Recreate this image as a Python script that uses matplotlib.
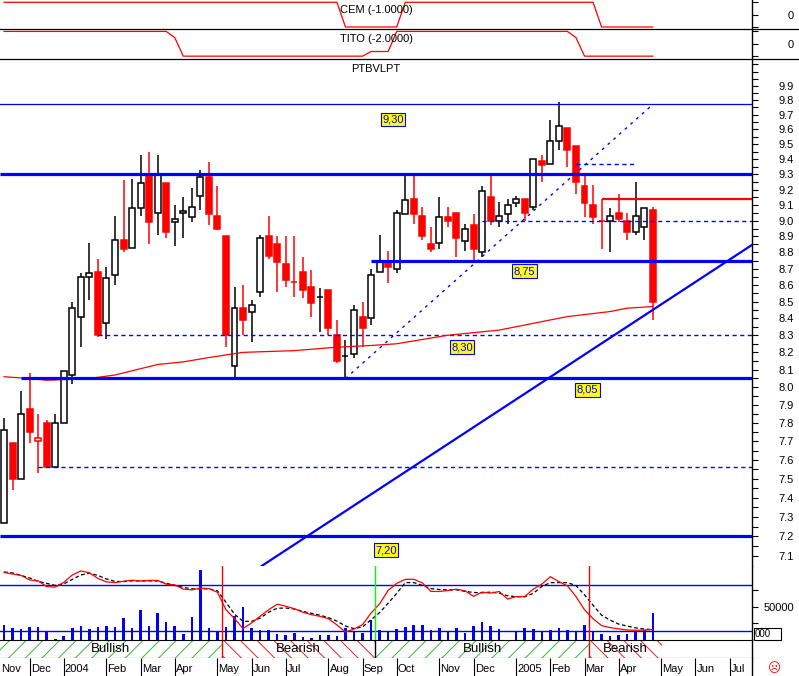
import matplotlib
matplotlib.use('Agg')
import matplotlib.pyplot as plt
from matplotlib.patches import Rectangle
from matplotlib.lines import Line2D
from matplotlib.ticker import FixedLocator, NullFormatter, FuncFormatter
import numpy as np

plt.rcParams['font.family'] = ['Liberation Sans', 'DejaVu Sans']
plt.rcParams['hatch.linewidth'] = 0.7

# weekly bars, week 0 = mid Nov 2003, last = end of Apr 2005
opens = [7.27, 7.69, 7.50, 7.88, 7.70, 7.80, 7.56, 7.80, 8.07, 8.41,
         8.65, 8.68, 8.37, 8.66, 8.88, 8.83, 9.08, 9.30, 9.05, 9.24,
         8.99, 9.05, 9.02, 9.16, 9.28, 9.03, 8.90, 8.12, 8.46, 8.44,
         8.56, 8.90, 8.85, 8.73, 8.62, 8.68, 8.59, 8.53, 8.57, 8.30,
         8.18, 8.19, 8.41, 8.40, 8.68, 8.74, 8.70, 9.04, 9.14, 9.03,
         8.85, 8.86, 9.02, 9.05, 8.87, 8.97, 8.80, 9.15, 9.00, 9.04,
         9.11, 9.14, 9.09, 9.39, 9.37, 9.52, 9.61, 9.49, 9.22, 9.10,
         9.00, 9.00, 9.05, 9.00, 8.93, 8.96, 9.07]
highs = [7.83, 7.69, 7.98, 8.08, 7.85, 7.82, 7.85, 8.09, 8.50, 8.67,
         8.86, 8.76, 8.71, 9.03, 9.26, 9.27, 9.43, 9.45, 9.43, 9.24,
         9.10, 9.15, 9.21, 9.33, 9.38, 9.22, 8.90, 8.59, 8.60, 8.51,
         8.91, 9.03, 8.90, 8.90, 8.90, 8.77, 8.69, 8.58, 8.57, 8.39,
         8.27, 8.48, 8.50, 8.70, 8.91, 8.81, 9.07, 9.29, 9.29, 9.09,
         8.96, 9.15, 9.09, 9.05, 8.98, 9.04, 9.22, 9.29, 9.12, 9.14,
         9.16, 9.14, 9.40, 9.43, 9.66, 9.79, 9.61, 9.49, 9.31, 9.23,
         9.14, 9.08, 9.17, 9.05, 9.25, 9.08, 9.09]
lows = [7.27, 7.44, 7.50, 7.69, 7.53, 7.56, 7.56, 7.80, 8.02, 8.23,
        8.51, 8.29, 8.28, 8.60, 8.80, 8.83, 9.03, 8.85, 8.91, 8.89,
        8.84, 8.89, 8.99, 9.07, 8.97, 8.94, 8.23, 8.05, 8.30, 8.26,
        8.53, 8.76, 8.56, 8.59, 8.53, 8.52, 8.41, 8.32, 8.30, 8.14,
        8.05, 8.17, 8.23, 8.36, 8.68, 8.61, 8.67, 9.04, 8.98, 8.88,
        8.80, 8.82, 8.96, 8.77, 8.81, 8.75, 8.77, 8.97, 8.96, 8.98,
        9.09, 9.00, 9.07, 9.25, 9.37, 9.46, 9.35, 9.17, 9.02, 8.98,
        8.82, 8.80, 8.99, 8.88, 8.91, 8.88, 8.39]
closes = [7.76, 7.50, 7.85, 7.75, 7.72, 7.56, 7.80, 8.09, 8.46, 8.65,
          8.67, 8.30, 8.64, 8.88, 8.82, 9.08, 9.24, 8.99, 9.30, 8.93,
          9.01, 9.06, 9.09, 9.28, 9.04, 8.95, 8.30, 8.46, 8.39, 8.48,
          8.89, 8.78, 8.74, 8.63, 8.62, 8.57, 8.49, 8.53, 8.34, 8.15,
          8.18, 8.45, 8.34, 8.66, 8.74, 8.71, 9.05, 9.13, 9.04, 8.90,
          8.82, 9.02, 9.00, 8.89, 8.95, 8.82, 9.19, 9.00, 9.03, 9.10,
          9.14, 9.05, 9.40, 9.36, 9.52, 9.62, 9.46, 9.25, 9.11, 9.02,
          9.00, 9.03, 9.01, 8.93, 9.03, 9.08, 8.50]
volume = [22000, 17400, 15900, 18900, 18900, 12900, 1000, 5300, 17400, 20500,
          15900, 18900, 20500, 18900, 32600, 17400, 44700, 20500, 40100, 26500,
          20500, 8300, 34100, 105300, 17400, 12900, 18900, 35600, 49200, 17400,
          14400, 14400, 8300, 6800, 9800, 3800, 2300, 6800, 6800, 5300,
          17400, 12900, 9800, 29500, 14400, 12900, 15900, 18500, 21500, 22000,
          14400, 17400, 12900, 17400, 9800, 20000, 26500, 20500, 15900, 0,
          12900, 17400, 15900, 11400, 14400, 17400, 14400, 12900, 22000, 11400,
          8300, 5300, 6800, 8300, 11400, 14400, 40100]
stoch_k = [96.3, 94.3, 92.4, 86.5, 85.2, 77.8, 77.0, 83.3, 93.0, 98.3,
           95.9, 88.5, 83.9, 83.0, 84.8, 86.1, 85.2, 85.9, 85.9, 80.9,
           80.0, 74.4, 73.5, 75.7, 75.2, 70.2, 47.4, 35.7, 22.6, 30.0,
           38.7, 47.4, 54.6, 52.0, 48.7, 44.1, 40.9, 38.7, 35.7, 27.4,
           18.0, 22.0, 27.8, 43.1, 55.2, 72.8, 82.0, 87.2, 87.4, 82.6,
           71.5, 71.3, 72.6, 74.4, 72.2, 65.0, 70.5, 69.2, 71.3, 61.3,
           64.7, 64.7, 74.4, 80.9, 90.8, 84.3, 78.7, 64.7, 47.4, 35.7,
           26.5, 23.9, 22.2, 20.7, 20.4, 20.7, 21.3]
stoch_d = [97.0, 95.7, 92.4, 89.1, 84.6, 82.0, 79.3, 81.3, 87.2, 93.0,
           95.3, 92.4, 87.8, 84.6, 84.3, 85.2, 85.2, 85.2, 85.2, 82.2,
           79.3, 76.7, 74.8, 74.8, 74.8, 72.2, 57.2, 41.5, 32.1, 32.1,
           36.3, 44.1, 49.3, 49.6, 48.3, 45.2, 42.6, 40.2, 37.0, 32.4,
           25.9, 22.6, 24.8, 34.3, 43.5, 55.9, 68.9, 83.0, 83.0, 79.3,
           75.2, 73.9, 73.5, 73.5, 71.5, 70.0, 69.6, 70.5, 69.2, 65.7,
           64.3, 64.3, 68.9, 78.0, 82.9, 83.0, 83.0, 79.1, 67.0, 53.3,
           40.2, 33.7, 28.5, 25.9, 23.5, 22.0, 21.3]

# 40 week average, read at some weeks
ma_weeks = [0, 3, 5, 10, 13, 18, 21, 24, 28, 34, 39, 43, 46, 52, 58, 63, 66, 71, 73, 76]
ma_vals = [8.06, 8.05, 8.04, 8.05, 8.07, 8.13, 8.145, 8.17, 8.20, 8.21,
           8.23, 8.24, 8.25, 8.30, 8.33, 8.38, 8.41, 8.44, 8.46, 8.47]

# system panels
cem_weeks = [0, 39, 40, 46, 47, 69, 70, 76]
cem_vals = [1, 1, -1, -1, 1, 1, -1, -1]
tito_weeks = [0, 19, 20, 21, 42, 43, 45, 46, 66, 67, 68, 76]
tito_vals = [2, 2, 1, -2, -2, -1.25, -1.25, 2, 2, 1, -2, -2]

# drawn levels
top_level = 9.77
thick_levels = [9.30, 8.75, 8.05, 7.20]
thick_from = [None, 43, 2, None]
dash_levels = [9.37, 9.00, 8.30, 7.56]
dash_from = [67, 56, 11, 4]
dash_to = [74, None, None, None]
stop_level = 9.14
stop_week = 70
support_pts = [(40, 7.33), (76, 8.45)]
dotted_pts = [(40, 8.05), (76, 9.77)]

# signals
sig_start = [None, 25.5, 43.5, 68.5]
sig_end = [25.5, 43.5, 68.5, 77.1]
sig_state = ['Bullish', 'Bearish', 'Bullish', 'Bearish']

month_weeks = [-1, 3, 7, 12, 16, 20, 25, 29, 33, 38, 42, 46, 51, 55, 60, 64, 68, 72, 77, 81, 85]
month_names = ['Nov', 'Dec', '2004', 'Feb', 'Mar', 'Apr', 'May', 'Jun', 'Jul', 'Aug', 'Sep',
               'Oct', 'Nov', 'Dec', '2005', 'Feb', 'Mar', 'Apr', 'May', 'Jun', 'Jul']

W, H = 799, 676
XL = (-0.47, 87.62)
fig = plt.figure(figsize=(W / 100, H / 100), dpi=100)


def box(top, bottom):
    return [0, 1 - bottom / H, 752 / W, (bottom - top) / H]


def frame(a):
    a.set_xlim(XL)
    for s in ['left', 'top', 'bottom']:
        a.spines[s].set_visible(False)
    a.spines['right'].set_linewidth(1.0)
    a.tick_params(axis='x', bottom=False, labelbottom=False)


def right_ticks(a):
    a.yaxis.tick_right()
    a.tick_params(axis='y', which='both', direction='out', length=4.3, width=0.8,
                  labelsize=8, pad=26)
    for t in a.yaxis.get_major_ticks():
        t.label2.set_horizontalalignment('right')


ax_cem = fig.add_axes(box(0, 29))
ax_tito = fig.add_axes(box(29, 59))
ax = fig.add_axes(box(59, 566))
ax_vol = fig.add_axes(box(566, 639.5))
ax_band = fig.add_axes(box(639.5, 657.5))
ax_time = fig.add_axes(box(657.5, 676))

# top panels
for a, wk, vals, lim, ticks, name, ty in [
        (ax_cem, cem_weeks, cem_vals, (-1.162, 1.186), [-1, 0, 1], 'CEM (-1.0000)', 1 - 10 / 29),
        (ax_tito, tito_weeks, tito_vals, (-2.46, 2.39), [-2, 0, 2], 'TITO (-2.0000)', 1 - 10 / 30)]:
    frame(a)
    a.plot(wk, vals, color='red', lw=0.9)
    a.set_ylim(lim)
    a.set_yticks(ticks)
    a.set_yticklabels(['', '0', ''])
    right_ticks(a)
    a.text(0.5, ty, name, transform=a.transAxes, ha='center', va='center', fontsize=8)

# price panel
frame(ax)
ax.set_yscale('log')
ax.set_ylim(7.051, 10.089)
ax.yaxis.set_major_locator(FixedLocator(np.round(np.arange(7.1, 9.95, 0.1), 2)))
ax.yaxis.set_minor_locator(FixedLocator(np.round(np.arange(7.15, 10.05, 0.1), 2).tolist() + [10.0]))
ax.yaxis.set_major_formatter(FuncFormatter(lambda v, p: '%.1f' % v))
ax.yaxis.set_minor_formatter(NullFormatter())
right_ticks(ax)

weeks = np.arange(len(closes))
prev = [opens[0]] + closes[:-1]
for i in weeks:
    o, h, l, c = opens[i], highs[i], lows[i], closes[i]
    col = 'red' if c < prev[i] else 'black'
    face = col if c < o else 'white'
    ax.vlines(i, l, h, color=col, lw=1.1, zorder=2)
    ax.bar(i, abs(c - o), bottom=min(o, c), width=0.7, facecolor=face,
           edgecolor=col, lw=1.1, zorder=3)

ax.axhline(top_level, color='blue', lw=0.9, zorder=4)
for lvl, start in zip(thick_levels, thick_from):
    ax.hlines(lvl, XL[0] if start is None else start, XL[1], colors='blue', lw=2.3, zorder=5)
for lvl, start, end in zip(dash_levels, dash_from, dash_to):
    ax.plot([start, XL[1] if end is None else end], [lvl, lvl], color='#0000ff', lw=1.0,
            ls=(0, (3, 2.5)), zorder=4)
ax.hlines(stop_level, stop_week, XL[1], colors='red', lw=1.6, zorder=5)
ax.axline(support_pts[0], support_pts[1], color='blue', lw=1.6, zorder=5)
ax.plot([p[0] for p in dotted_pts], [p[1] for p in dotted_pts], color='#0000ff', lw=1.0,
        ls=(0, (2, 3.5)), zorder=4)
ax.plot(ma_weeks, ma_vals, color='red', lw=0.9, zorder=4)

for s, w, p in [('9,30', 45.57, 9.667), ('8,75', 60.97, 8.685), ('8,30', 53.65, 8.231),
                ('8,05', 68.35, 7.985), ('7,20', 44.75, 7.131)]:
    ax.text(w, p, s, ha='center', va='center', color='blue', fontsize=8, zorder=6,
            bbox=dict(boxstyle='square,pad=0.15', fc='yellow', ec='blue', lw=0.8))
ax.text(0.5, 1 - 10.3 / 507, 'PTBVLPT', transform=ax.transAxes, ha='center', va='center',
        fontsize=8)

# volume + stochastic panel
frame(ax_vol)
ax_k = ax_vol.twinx()
ax_vol.bar(weeks, volume, width=0.3, color='blue', zorder=2)
ax_vol.set_ylim(0, 112121)
ax_vol.set_yticks([25000, 50000, 75000])
ax_vol.set_yticklabels(['', '50000', ''])
right_ticks(ax_vol)

ax_k.set_xlim(XL)
ax_k.set_ylim(8.26, 104.8)
for s in ax_k.spines.values():
    s.set_visible(False)
ax_k.tick_params(axis='y', left=False, labelleft=False, right=False, labelright=False)
ax_k.axhline(80, color='blue', lw=1.0)
ax_k.axhline(20, color='blue', lw=1.0)
ax_k.plot(weeks, stoch_d, color='black', lw=0.9, ls=(0, (3, 2)))
ax_k.plot(weeks, stoch_k, color='red', lw=0.9)
for s, st in zip(sig_start[1:], sig_state[1:]):
    ax_k.axvline(s, color='#00ff00' if st == 'Bullish' else 'red', lw=1.0)

# signal band
frame(ax_band)
ax_band.spines['top'].set_visible(True)
ax_band.spines['bottom'].set_visible(True)
ax_band.set_ylim(0, 1)
ax_band.set_yticks([])
for s, e, st in zip(sig_start, sig_end, sig_state):
    s = XL[0] if s is None else s
    hc = '#33bb33' if st == 'Bullish' else '#ee2222'
    ax_band.add_patch(Rectangle((s, 0), e - s, 1, facecolor='white', edgecolor=hc,
                                hatch='//' if st == 'Bullish' else '\\\\', lw=0))
    ax_band.text((s + e) / 2, 0.48, st, ha='center', va='center', fontsize=9.5)
for s, st in zip(sig_start[1:], sig_state[1:]):
    ax_band.axvline(s, color='black' if st == 'Bullish' else 'red', lw=1.0)

# month strip
frame(ax_time)
ax_time.set_ylim(0, 1)
ax_time.set_yticks([])
ax_time.vlines(month_weeks, 0, 1, colors='black', lw=0.8)
for w, n in zip(month_weeks, month_names):
    ax_time.annotate(n, (max(w, XL[0]), 0.37), xytext=(0.8, 0), textcoords='offset points',
                     ha='left', va='center', fontsize=8, annotation_clip=False)

# panel separators and odds
for y in [29, 59]:
    fig.add_artist(Line2D([0, 1], [1 - y / H] * 2, color='black', lw=0.9,
                          transform=fig.transFigure))
fig.add_artist(Rectangle((754 / W, 1 - 640 / H), 27 / W, 12 / H, transform=fig.transFigure,
                         fill=False, ec='black', lw=0.8))
fig.text(755 / W, 1 - 634 / H, '000', fontsize=7, va='center')
fig.text(774 / W, 1 - 669 / H, '\u2639', color='red', fontsize=9, ha='center', va='center',
         family='DejaVu Sans')

fig.savefig('out.png', dpi=100, facecolor='white')
